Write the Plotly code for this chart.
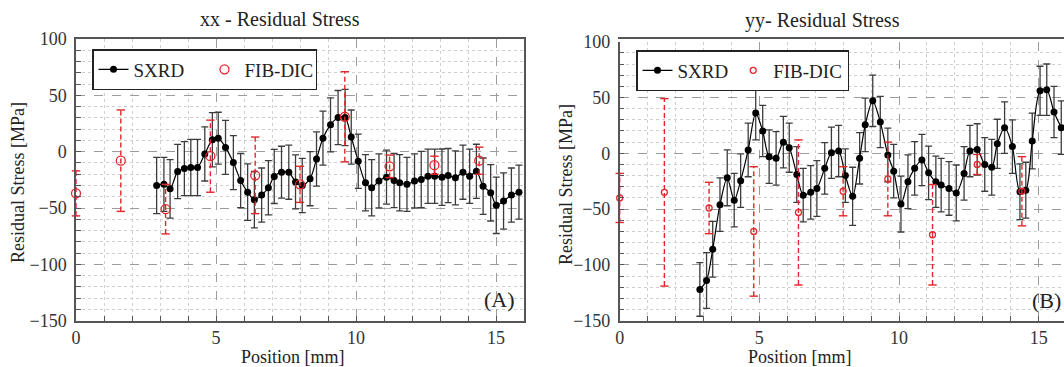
import plotly.graph_objects as go

# ---------------- data ----------------
xx_pos = [2.88, 3.14, 3.36, 3.63, 3.87, 4.10, 4.34, 4.60, 4.87, 5.08, 5.34, 5.62, 5.88, 6.13,
          6.37, 6.63, 6.87, 7.08, 7.34, 7.60, 7.84, 8.08, 8.36, 8.59, 8.82, 9.09, 9.36, 9.61,
          9.83, 10.08, 10.34, 10.56, 10.82, 11.09, 11.36, 11.56, 11.82, 12.09, 12.33, 12.57,
          12.81, 13.07, 13.29, 13.55, 13.82, 14.06, 14.30, 14.54, 14.81, 15.01, 15.27, 15.55, 15.82]
xx_sxrd = [-30, -29, -33, -17.6, -15, -14, -14, -2, 10.6, 12, 3.8, -9.7, -25.6, -35.9,
           -42.6, -38.5, -32, -22, -18.2, -18.2, -26.8, -30, -24, -6.5, 12, 23.8, 30.3, 30.3,
           13, -8.5, -27.6, -32, -26, -22.6, -25.6, -27.6, -29, -26, -24.7, -21.8,
           -21.8, -22.6, -21.2, -23.2, -18.2, -21.8, -17.4, -30.6, -36.5, -47.6, -43.8, -38.5, -35.9]
xx_sxrd_err = [25, 24, 26, 24, 24, 25, 25, 24, 24, 23, 24, 24, 24, 25, 25, 24, 24, 24, 23, 24,
               24, 24, 24, 24, 24, 24, 24, 25, 24, 24, 25, 25, 24, 24, 24, 25, 24, 24, 25, 24,
               24, 25, 24, 24, 24, 24, 24, 25, 25, 25, 25, 24, 24]

fib_pos = [0.0, 1.6, 3.2, 4.8, 6.4, 8.0, 9.6, 11.2, 12.8, 14.4]
xx_fib = [-37, -8, -51, -4, -21, -29, 31, -13, -12, -8]
xx_fib_err = [20, 45, 22, 32, 34, 16, 40, 10, 8, 12]

yy_pos = [2.87, 3.11, 3.33, 3.59, 3.85, 4.10, 4.33, 4.60, 4.87, 5.12, 5.35, 5.60, 5.86, 6.07,
          6.34, 6.57, 6.84, 7.06, 7.34, 7.58, 7.84, 8.08, 8.34, 8.59, 8.79, 9.06, 9.33, 9.60,
          9.81, 10.07, 10.32, 10.56, 10.82, 11.06, 11.32, 11.51, 11.79, 12.05, 12.33, 12.54,
          12.80, 13.07, 13.32, 13.52, 13.78, 14.06, 14.33, 14.54, 14.77, 15.05, 15.29, 15.55, 15.81]
yy_sxrd = [-122, -114, -86, -46, -22, -42, -24.5, 3, 36, 20, -3, -4.5, 10, 5,
           -19, -37.5, -35, -31.5, -13.5, 0.5, 2, -20, -38.5, -4.5, 25.5, 47, 28, -1.5,
           -16, -45.5, -25.5, -13.5, -6, -17.5, -25.5, -28.5, -31.5, -35.5, -18, 2,
           3.5, -10, -12.5, 8.5, 23, 6, -34.5, -33, 11, 56, 57, 37, 23]
yy_sxrd_err = [24, 25, 25, 24, 25, 24, 24, 24, 24, 23, 24, 24, 23, 22, 25, 24, 24, 25, 23, 23,
               23, 24, 26, 23, 24, 23, 23, 24, 24, 25, 24, 24, 23, 24, 23, 24, 24, 25, 24, 23,
               23, 24, 25, 22, 23, 24, 25, 25, 25, 22, 23, 23, 24]

yy_fib = [-40, -35, -49, -70, -53, -34, -23, -73, -10, -34]
yy_fib_err = [22, 84, 23, 58, 65, 22, 33, 45, 9, 31]

# ---------------- style ----------------
FONT = "Liberation Serif"
RED = "#e3262b"
BAR = "#3c3c3c"
W, H = 1064, 367

fig = go.Figure()


def add_panel(xs, ys, es, fxs, fys, fes, xa, ya, legend, fib_size):
    # SXRD
    fig.add_trace(go.Scatter(
        x=xs, y=ys, mode="lines+markers", name="SXRD",
        line=dict(color="black", width=1.2, shape="spline", smoothing=0.8),
        marker=dict(color="black", size=7),
        error_y=dict(type="data", array=es, visible=True, color=BAR, thickness=1.3, width=3.5),
        xaxis=xa, yaxis=ya, legend=legend))
    # FIB-DIC dashed error bars
    bx, by = [], []
    for x, y, e in zip(fxs, fys, fes):
        bx += [x, x, None]
        by += [y - e, y + e, None]
    fig.add_trace(go.Scatter(
        x=bx, y=by, mode="lines", showlegend=False, hoverinfo="skip",
        line=dict(color=RED, width=1.4, dash="5px,3px"), cliponaxis=False,
        xaxis=xa, yaxis=ya, legend=legend))
    cx = list(fxs) + list(fxs)
    cy = [y - e for y, e in zip(fys, fes)] + [y + e for y, e in zip(fys, fes)]
    fig.add_trace(go.Scatter(
        x=cx, y=cy, mode="markers", showlegend=False, hoverinfo="skip",
        marker=dict(symbol="line-ew", size=6, line=dict(color=RED, width=1.4)),
        cliponaxis=False, xaxis=xa, yaxis=ya, legend=legend))
    # FIB-DIC points
    fig.add_trace(go.Scatter(
        x=fxs, y=fys, mode="markers", name="FIB-DIC",
        marker=dict(symbol="circle-open", color=RED, size=fib_size, line=dict(width=1.3, color=RED)),
        cliponaxis=False, xaxis=xa, yaxis=ya, legend=legend))


add_panel(xx_pos, xx_sxrd, xx_sxrd_err, fib_pos, xx_fib, xx_fib_err, "x", "y", "legend", 9)
add_panel(yy_pos, yy_sxrd, yy_sxrd_err, fib_pos, yy_fib, yy_fib_err, "x2", "y2", "legend2", 6)


def xaxis(domain, rng, mirror=True):
    return dict(domain=domain, range=rng, tick0=0, dtick=5, showgrid=True, gridcolor="#9c9c9c",
                griddash="dash", gridwidth=1, ticks="inside", ticklen=5, tickcolor="#555",
                showline=True, linecolor="#555", linewidth=1.5, mirror=mirror, zeroline=False,
                tickfont=dict(family=FONT, size=18, color="#333"), automargin=False,
                minor=dict(dtick=1, tick0=0, showgrid=True, gridcolor="#cfcfcf", griddash="dot",
                           ticks="inside", ticklen=5, tickcolor="#555"))


def yaxis(domain, anchor, mirror=True):
    return dict(domain=domain, range=[-150, 100], tick0=0, dtick=50, showgrid=True,
                gridcolor="#9c9c9c", griddash="dash", gridwidth=1, ticks="inside", ticklen=5,
                tickcolor="#555", showline=True, linecolor="#555", linewidth=1.5, mirror=mirror,
                zeroline=False, anchor=anchor, ticklabelstandoff=4,
                tickfont=dict(family=FONT, size=18, color="#333"), automargin=False,
                minor=dict(dtick=10, tick0=0, showgrid=True, gridcolor="#cfcfcf", griddash="dot",
                           ticks="inside", ticklen=5, tickcolor="#555"))


def px(v):
    return v / W


def py(v):
    return 1 - v / H


fig.update_layout(
    width=W, height=H, template="none",
    margin=dict(l=0, r=0, t=0, b=0, pad=0),
    paper_bgcolor="white", plot_bgcolor="white",
    xaxis=xaxis([px(76), px(524)], [0, 16]),
    yaxis=yaxis([py(320.7), py(39)], "x"),
    xaxis2=xaxis([px(619.7), 1.0], [0, (W - 619.7) / 27.93]),
    yaxis2=yaxis([py(320.7), py(41.7)], "x2", mirror=False),
    legend=dict(x=px(92), y=py(49), xanchor="left", yanchor="top", orientation="h",
                bgcolor="white", bordercolor="#222", borderwidth=1.5, entrywidth=66,
                font=dict(family=FONT, size=19, color="#222"), itemwidth=30),
    legend2=dict(x=px(636), y=py(50), xanchor="left", yanchor="top", orientation="h",
                 bgcolor="white", bordercolor="#222", borderwidth=1.5,
                 font=dict(family=FONT, size=19, color="#222"), itemwidth=30),
    showlegend=True,
)

ann_font = dict(family=FONT, size=18, color="#222")
annotations = [
    dict(text="xx - Residual Stress", x=px(280), y=py(19), font=dict(family=FONT, size=20, color="#222")),
    dict(text="yy- Residual Stress", x=px(822), y=py(20), font=dict(family=FONT, size=20, color="#222")),
    dict(text="Position [mm]", x=px(293), y=py(357), font=ann_font),
    dict(text="Position [mm]", x=px(800), y=py(357), font=ann_font),
    dict(text="Residual Stress [MPa]", x=px(18), y=py(183), textangle=-90, font=ann_font),
    dict(text="Residual Stress [MPa]", x=px(566), y=py(185), textangle=-90, font=ann_font),
    dict(text="(A)", x=px(499), y=py(299), font=dict(family=FONT, size=22, color="#222")),
    dict(text="(B)", x=px(1046), y=py(300), font=dict(family=FONT, size=22, color="#222")),
]
for a in annotations:
    a.update(xref="paper", yref="paper", showarrow=False, xanchor="center", yanchor="middle")
fig.update_layout(annotations=annotations)

fig.write_html("out.html", config={"displayModeBar": False},
               post_script="document.body.style.margin='0';")
